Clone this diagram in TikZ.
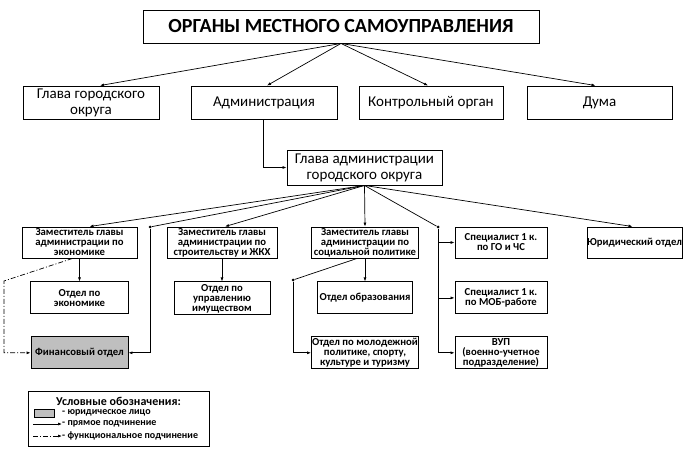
\documentclass[tikz,border=0pt]{standalone}
\usepackage{fontspec}
\setmainfont{Carlito}
\usetikzlibrary{arrows.meta,positioning}

\tikzset{
    box/.style={draw, line width=0.9pt, align=center, inner sep=1pt,
        font=\fontsize{15}{16}\selectfont},
    unit/.style={draw, line width=0.9pt, align=center, inner sep=0pt,
        font=\bfseries\fontsize{10.7}{10}\selectfont},
    link/.style={line width=0.7pt, -{Latex[length=4pt,width=3pt]}},
    bus/.style={line width=0.7pt},
    func/.style={line width=0.7pt, dash pattern=on 5pt off 2pt on 1pt off 2pt,
        -{Latex[length=4pt,width=3pt]}},
    dot/.style={circle, fill, inner sep=0pt, minimum size=3pt},
    note/.style={anchor=west, inner sep=0pt, font=\bfseries\fontsize{10}{10}\selectfont},
}

\begin{document}
\begin{tikzpicture}[x=1pt, y=-1pt]
    \useasboundingbox (0,0) rectangle (688,449);

    % top level
    \node[box, minimum width=396pt, minimum height=33pt,
        font=\bfseries\fontsize{20}{22}\selectfont] (01) at (341,26.5)
        {ОРГАНЫ МЕСТНОГО САМОУПРАВЛЕНИЯ};

    \node[box, minimum width=136pt, minimum height=33pt] (02) at (91,102.5)
        {Глава городского\\округа};
    \node[box, minimum width=146pt, minimum height=33pt] (03) at (264,102.5)
        {Администрация};
    \node[box, minimum width=144pt, minimum height=33pt] (04) at (431,102.5)
        {Контрольный орган};
    \node[box, minimum width=145pt, minimum height=33pt] (05) at (599.5,102.5)
        {Дума};

    \node[box, minimum width=155pt, minimum height=35pt] (06) at (364.5,167.5)
        {Глава администрации\\городского округа};

    % deputies and departments
    \node[unit, minimum width=115pt, minimum height=31pt] (07) at (79.5,242.5)
        {Заместитель главы\\администрации по\\экономике};
    \node[unit, minimum width=110pt, minimum height=31pt] (08) at (222,242.5)
        {Заместитель главы\\администрации по\\строительству и ЖКХ};
    \node[unit, minimum width=107pt, minimum height=31pt] (09) at (365,242.5)
        {Заместитель главы\\администрации по\\социальной политике};
    \node[unit, minimum width=92pt, minimum height=31pt] (10) at (501,242.5)
        {Специалист 1 к.\\по ГО и ЧС};
    \node[unit, minimum width=95pt, minimum height=31pt] (11) at (634.5,242.5)
        {Юридический отдел};

    \node[unit, minimum width=98pt, minimum height=32pt] (12) [below=23pt of 07]
        {Отдел по\\экономике};
    \node[unit, minimum width=96pt, minimum height=33pt] (13) [below=23pt of 08]
        {Отдел по\\управлению\\имуществом};
    \node[unit, minimum width=95pt, minimum height=32pt] (14) [below=23pt of 09]
        {Отдел образования};
    \node[unit, minimum width=92pt, minimum height=32pt] (15) [below=23pt of 10]
        {Специалист 1 к.\\по МОБ-работе};

    \node[unit, minimum width=97pt, minimum height=32pt, fill=black!25] (16)
        [below=22pt of 12] {Финансовый отдел};
    \node[unit, minimum width=107pt, minimum height=32pt] (17) [below=22pt of 14]
        {Отдел по молодежной\\политике, спорту,\\культуре и туризму};
    \node[unit, minimum width=92pt, minimum height=32pt] (18) [below=22pt of 15]
        {ВУП\\(военно-учетное\\подразделение)};

    \node[dot] (d1) at (150,227) {};
    \node[dot] (d2) at (438,227) {};
    \node[dot] (d3) at (293,280) {};
    \coordinate (c1) at (4,281);

    \draw[link] (01.south) -- ([xshift=9pt]02.north);
    \draw[link] (01.south) -- ([xshift=3pt]03.north);
    \draw[link] (01.south) -- ([xshift=-3pt]04.north);
    \draw[link] (01.south) -- ([xshift=-4pt]05.north);
    \draw[link] ([xshift=-1pt]03.south) |- (06.west);

    \draw[link] (06.south) -- ([xshift=10pt]07.north);
    \draw[bus] (06.south) -- (d1);
    \draw[link] (06.south) -- ([xshift=3pt]08.north);
    \draw[link] (06.south) -- (09.north);
    \draw[bus] (06.south) -- (d2);
    \draw[link] (06.south) -- ([xshift=-2pt]11.north);

    \draw[link] (d1) |- (16.east);
    \draw[link] (d2) |- (18.west);
    \draw[link] (d2 |- 10.west) -- (10.west);
    \draw[link] (d2 |- 15.west) -- (15.west);

    \draw[link] (07) -- (12);
    \draw[link] (08) -- (13);
    \draw[link] (09) -- (14);
    \draw[bus] ([xshift=-8pt]09.south) -- (d3);
    \draw[link] (d3) |- (17.west);
    \draw[func] ([xshift=-7pt]07.south) -- (c1) |- (16.west);

    % legend
    \node[draw, line width=0.9pt, minimum width=181pt, minimum height=55pt]
        (19) at (118.5,418.5) {};
    \node[inner sep=0pt, font=\bfseries\fontsize{12}{12}\selectfont] (20)
        at (118.5,401.5) {Условные обозначения:};
    \node[draw, line width=0.7pt, fill=black!25, minimum width=20pt,
        minimum height=8pt, inner sep=0pt] (21) at (44,413) {};
    \node[note] (22) at (62,413) {- юридическое лицо};
    \node[note] (23) at (62,424) {- прямое подчинение};
    \node[note] (24) at (62,436) {- функциональное подчинение};
    \coordinate (c2) at (33,424);
    \coordinate (c3) at (33,436);
    \draw[link] (c2) -- (23.west);
    \draw[func] (c3) -- (24.west);
\end{tikzpicture}
\end{document}
